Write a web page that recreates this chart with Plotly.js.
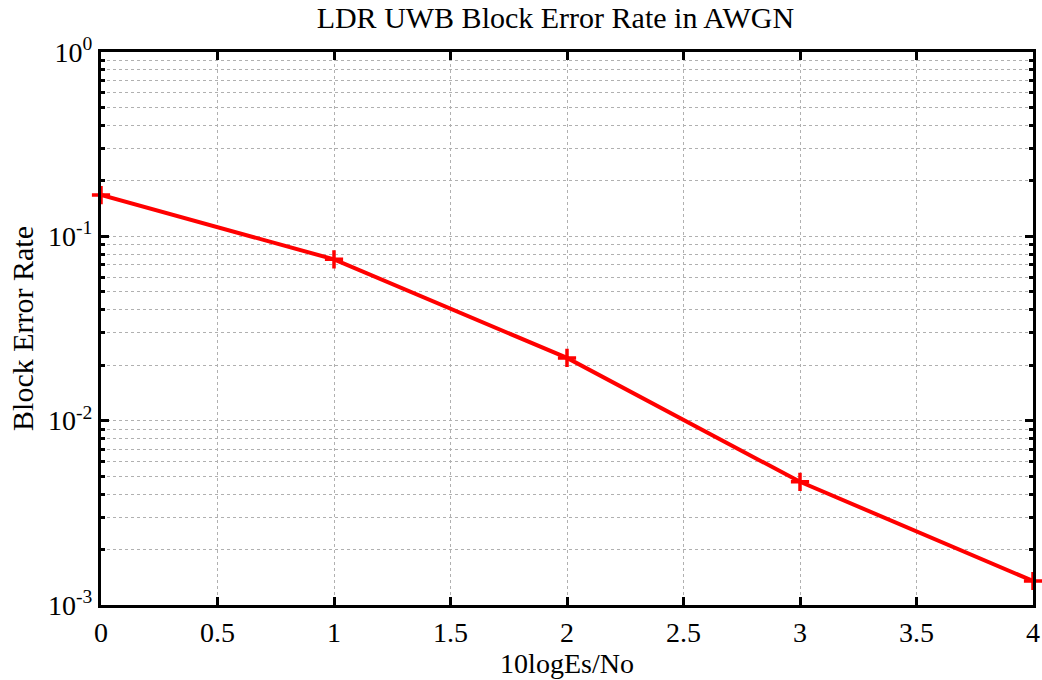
<!DOCTYPE html>
<html>
<head>
<meta charset="utf-8">
<script src="https://cdn.plot.ly/plotly-3.0.1.min.js"></script>
<style>html,body{margin:0;padding:0;background:#fff;}#chart{width:1042px;height:680px;}</style>
</head>
<body>
<div id="chart"></div>
<script>
const snrDb = [0, 1, 2, 3, 4];
const blockErrorRate = [0.1675, 0.0750, 0.0219, 0.00466, 0.00135];
const xTickVals = [0, 0.5, 1, 1.5, 2, 2.5, 3, 3.5, 4];
const xTickText = ['0', '0.5', '1', '1.5', '2', '2.5', '3', '3.5', '4'];
const yTickVals = [0.001, 0.01, 0.1, 1];
const yTickText = ['10<sup>-3</sup>', '10<sup>-2</sup>', '10<sup>-1</sup>', '10<sup>0</sup>'];

const FAM = 'Liberation Serif, Times New Roman, serif';
function f(size) { return {family: FAM, size: size, color: '#000'}; }

const trace = {
  x: snrDb,
  y: blockErrorRate,
  type: 'scatter',
  mode: 'lines+markers',
  line: {color: '#ff0000', width: 4},
  marker: {symbol: 'cross-thin', size: 13, line: {color: '#ff0000', width: 3.5}},
  cliponaxis: false,
  showlegend: false
};

const layout = {
  width: 1042,
  height: 680,
  margin: {l: 101, r: 9, t: 52, b: 75},
  paper_bgcolor: '#fff',
  plot_bgcolor: '#fff',
  font: f(28),
  title: {text: 'LDR UWB Block Error Rate in AWGN', font: f(30), x: 0.533, xanchor: 'center', y: 0.975, yanchor: 'middle'},
  xaxis: {
    range: [0, 4],
    tickvals: xTickVals,
    ticktext: xTickText,
    ticks: 'inside',
    ticklen: 8,
    tickwidth: 3,
    tickcolor: '#000',
    showline: true,
    linewidth: 3,
    linecolor: '#000',
    mirror: 'ticks',
    showgrid: true,
    gridcolor: '#b0b0b0',
    gridwidth: 1,
    griddash: 'dot',
    zeroline: false,
    automargin: false,
    ticklabeloverflow: 'allow',
    tickfont: f(28),
    title: {text: '10logEs/No', font: f(28), standoff: 4}
  },
  yaxis: {
    type: 'log',
    range: [-3, 0],
    tickvals: yTickVals,
    ticktext: yTickText,
    ticks: 'inside',
    ticklen: 8,
    tickwidth: 3,
    tickcolor: '#000',
    showline: true,
    linewidth: 3,
    linecolor: '#000',
    mirror: 'ticks',
    showgrid: true,
    gridcolor: '#b0b0b0',
    gridwidth: 1,
    griddash: 'dot',
    zeroline: false,
    automargin: false,
    ticklabeloverflow: 'allow',
    tickfont: f(28),
    minor: {
      dtick: 'D1',
      ticks: 'inside',
      ticklen: 4,
      tickwidth: 3,
      tickcolor: '#000',
      showgrid: true,
      gridcolor: '#b0b0b0',
      gridwidth: 1,
      griddash: 'dot'
    },
    title: {text: 'Block Error Rate', font: f(30), standoff: 6}
  }
};

Plotly.newPlot('chart', [trace], layout, {displayModeBar: false, staticPlot: true});
</script>
</body>
</html>
